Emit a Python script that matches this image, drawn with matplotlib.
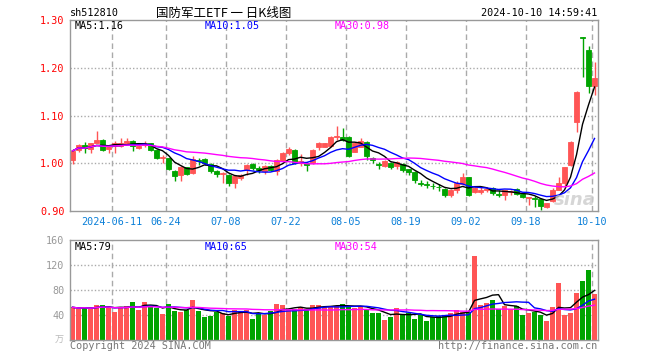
import matplotlib
matplotlib.use('Agg')
import matplotlib.pyplot as plt
import numpy as np
import pandas as pd

code = 'sh512810'
title = '国防军工ETF 一 日K线图'
stamp = '2024-10-10 14:59:41'

# daily candles 2024-05-30 .. 2024-10-10
opens = [1.007, 1.028, 1.038, 1.029, 1.043, 1.049, 1.029, 1.036, 1.036, 1.042,
         1.047, 1.031, 1.038, 1.042, 1.028, 1.010, 1.010, 0.984, 0.975, 0.992,
         0.979, 1.007, 1.008, 0.998, 0.984, 0.977, 0.975, 0.958, 0.969, 0.986,
         0.998, 0.991, 0.984, 0.994, 0.984, 1.005, 1.021, 1.028, 1.000, 1.001,
         1.000, 1.035, 1.035, 1.036, 1.056, 1.054, 1.056, 1.024, 1.035, 1.044,
         1.012, 0.998, 0.994, 1.001, 0.994, 0.998, 0.988, 0.981, 0.959, 0.957,
         0.953, 0.951, 0.946, 0.934, 0.944, 0.957, 0.971, 0.940, 0.940, 0.945,
         0.948, 0.936, 0.933, 0.939, 0.946, 0.936, 0.927, 0.928, 0.925, 0.908,
         0.920, 0.944, 0.959, 0.996, 1.087, 1.264, 1.237, 1.162]
highs = [1.028, 1.040, 1.044, 1.043, 1.068, 1.051, 1.036, 1.047, 1.052, 1.052,
         1.049, 1.038, 1.047, 1.043, 1.029, 1.017, 1.012, 0.986, 0.994, 0.993,
         1.015, 1.010, 1.010, 1.000, 0.986, 0.982, 0.977, 0.975, 0.977, 0.998,
         1.000, 0.994, 0.996, 0.996, 1.008, 1.024, 1.033, 1.029, 1.019, 1.003,
         1.029, 1.045, 1.043, 1.057, 1.077, 1.074, 1.058, 1.045, 1.052, 1.046,
         1.014, 1.002, 1.007, 1.003, 1.005, 1.000, 0.989, 0.983, 0.965, 0.963,
         0.958, 0.957, 0.948, 0.946, 0.963, 0.979, 0.972, 0.951, 0.951, 0.951,
         0.951, 0.944, 0.944, 0.944, 0.949, 0.938, 0.930, 0.931, 0.927, 0.917,
         0.948, 0.972, 0.993, 1.047, 1.151, 1.265, 1.246, 1.213]
lows = [0.998, 1.024, 1.022, 1.021, 1.042, 1.026, 1.021, 1.021, 1.035, 1.040,
        1.026, 1.029, 1.035, 1.026, 1.008, 1.001, 0.986, 0.963, 0.963, 0.975,
        0.977, 0.996, 0.996, 0.980, 0.972, 0.958, 0.953, 0.948, 0.965, 0.975,
        0.986, 0.979, 0.977, 0.984, 0.975, 1.004, 1.017, 0.998, 0.994, 0.984,
        0.998, 1.028, 1.033, 1.035, 1.049, 1.047, 1.013, 1.023, 1.033, 1.007,
        1.001, 0.988, 0.992, 0.989, 0.988, 0.982, 0.975, 0.958, 0.953, 0.949,
        0.946, 0.942, 0.930, 0.930, 0.937, 0.954, 0.931, 0.937, 0.936, 0.940,
        0.933, 0.929, 0.923, 0.933, 0.933, 0.927, 0.913, 0.909, 0.902, 0.906,
        0.918, 0.943, 0.952, 0.994, 1.066, 1.181, 1.148, 1.143]
closes = [1.026, 1.038, 1.031, 1.042, 1.049, 1.028, 1.033, 1.043, 1.043, 1.047,
          1.036, 1.036, 1.043, 1.028, 1.010, 1.014, 0.987, 0.973, 0.993, 0.978,
          1.008, 1.004, 1.000, 0.984, 0.977, 0.979, 0.959, 0.973, 0.975, 0.996,
          0.991, 0.986, 0.994, 0.986, 1.007, 1.022, 1.029, 1.000, 1.005, 0.996,
          1.028, 1.042, 1.042, 1.056, 1.058, 1.049, 1.016, 1.042, 1.047, 1.016,
          1.007, 0.997, 1.005, 0.992, 1.003, 0.986, 0.982, 0.965, 0.957, 0.955,
          0.952, 0.950, 0.934, 0.944, 0.958, 0.971, 0.934, 0.948, 0.945, 0.946,
          0.937, 0.934, 0.943, 0.941, 0.936, 0.929, 0.929, 0.926, 0.911, 0.916,
          0.943, 0.959, 0.992, 1.045, 1.150, 1.262, 1.162, 1.179]
# volume, 万手
volumes = [52.3, 50.1, 52.3, 49.1, 56.0, 56.0, 52.3, 45.3, 52.3, 54.4,
           61.3, 48.0, 61.3, 54.4, 50.7, 41.6, 57.6, 46.9, 45.3, 48.0,
           64.0, 46.9, 37.3, 38.4, 45.3, 42.7, 38.4, 48.0, 45.3, 48.0,
           33.6, 42.7, 40.0, 46.9, 57.6, 56.0, 48.0, 49.1, 52.3, 49.1,
           56.0, 56.0, 53.3, 54.4, 54.4, 57.6, 54.4, 50.7, 54.4, 48.0,
           43.7, 43.7, 32.0, 36.3, 51.8, 40.0, 42.7, 34.1, 40.0, 31.0,
           36.3, 38.4, 40.0, 43.7, 48.0, 45.3, 45.3, 134.4, 56.0, 59.2,
           64.0, 49.1, 54.4, 49.1, 54.4, 40.0, 42.7, 45.3, 40.0, 31.0,
           53.3, 91.7, 40.0, 42.7, 74.7, 93.9, 112.0, 73.3]

tick_idx = [7, 16, 26, 36, 46, 56, 66, 76, 87]
tick_labels = ['2024-06-11', '06-24', '07-08', '07-22', '08-05', '08-19', '09-02', '09-18', '10-10']
price_ticks = [0.90, 1.00, 1.10, 1.20, 1.30]
vol_ticks = [40, 80, 120, 160]
price_ma_text = ['MA5:1.16', 'MA10:1.05', 'MA30:0.98']
vol_ma_text = ['MA5:79', 'MA10:65', 'MA30:54']

RED = '#ff5555'
GREEN = '#00a400'
MA_COLORS = ['black', '#0000ff', '#ff00ff']
GRID = '#aaaaaa'
MONO = 'DejaVu Sans Mono'
CJK = ['Noto Sans CJK SC', 'DejaVu Sans']

W, H = 660, 360
fig = plt.figure(figsize=(W / 100, H / 100), dpi=100)
fig.patch.set_facecolor('white')

def fpos(px, py):
    return px / W, 1 - py / H

ax = fig.add_axes([70 / W, 1 - 211 / H, 528 / W, 191 / H])
axv = fig.add_axes([70 / W, 1 - 340 / H, 528 / W, 100 / H])

o = np.array(opens); h = np.array(highs); l = np.array(lows); c = np.array(closes)
v = np.array(volumes)
x = np.arange(len(c))
up = c >= o
colors = np.where(up, RED, GREEN)

# candles
ax.vlines(x, l, h, colors=colors, linewidth=1)
body_lo = np.minimum(o, c)
body_h = np.maximum(np.abs(c - o), 0.0008)
ax.bar(x, body_h, bottom=body_lo, width=0.8, color=colors, edgecolor=colors, linewidth=0.6)

# moving averages
for n, col in zip([5, 10, 30], MA_COLORS):
    ax.plot(x, pd.Series(c).rolling(n, min_periods=1).mean(), color=col, lw=1)
    axv.plot(x, pd.Series(v).rolling(n, min_periods=1).mean(), color=col, lw=1)

axv.bar(x, v, width=0.8, color=colors, linewidth=0)

xlim = (-2.5 / 6, 525.5 / 6 - 2.5 / 6 + 0.0)
for a in (ax, axv):
    a.set_xlim(-0.42, 87.58)
    for s in a.spines.values():
        s.set_color('#999999')
        s.set_linewidth(1)
    for t in tick_idx:
        a.axvline(t - 0.42, color=GRID, lw=1, ls=(0, (4, 2.5)), zorder=0)

ax.set_ylim(0.90, 1.30)
for p in price_ticks[1:-1]:
    ax.axhline(p, color=GRID, lw=1, ls=(0, (1, 1.5)), zorder=0)
ax.set_yticks(price_ticks)
ax.set_yticklabels(['%.2f' % p for p in price_ticks], color='#ff0000',
                   fontsize=7.3, family=MONO)
ax.set_xticks([t - 0.42 for t in tick_idx])
ax.set_xticklabels(tick_labels, color='#0a7fd8', fontsize=7.3, family=MONO)
ax.tick_params(length=0, pad=4)

axv.set_ylim(0, 160)
for vv in vol_ticks[:-1]:
    axv.axhline(vv, color=GRID, lw=1, ls=(0, (1, 1.5)), zorder=0)
axv.set_yticks(vol_ticks)
axv.set_yticklabels([str(t) for t in vol_ticks], color='#999999', fontsize=7.3, family=MONO)
axv.set_xticks([])
axv.tick_params(length=0, pad=4)

# header
fig.text(*fpos(70, 13), code, fontsize=7.3, family=MONO, va='center', ha='left')
fig.text(*fpos(224, 13), title, fontsize=9, family=CJK, va='center', ha='center')
fig.text(*fpos(597, 13), stamp, fontsize=7.3, family=MONO, va='center', ha='right')

for txt, px, col in zip(price_ma_text, [75, 205, 335], MA_COLORS):
    fig.text(*fpos(px, 26), txt, fontsize=7.3, family=MONO, color=col, va='center', ha='left')
for txt, px, col in zip(vol_ma_text, [75, 205, 335], MA_COLORS):
    fig.text(*fpos(px, 247), txt, fontsize=7.3, family=MONO, color=col, va='center', ha='left')

fig.text(*fpos(64, 340), '万', fontsize=6.5, family=CJK, color='#bbbbbb', va='center', ha='right')
fig.text(*fpos(70, 346), 'Copyright 2024 SINA.COM', fontsize=7.3, family=MONO,
         color='#777777', va='center', ha='left')
fig.text(*fpos(597, 346), 'http://finance.sina.com.cn', fontsize=7.3, family=MONO,
         color='#777777', va='center', ha='right')
fig.text(*fpos(575, 200), 'sina', fontsize=13, fontweight='bold', style='italic',
         color='#cccccc', alpha=0.8, va='center', ha='center', zorder=0)

fig.savefig('out.png', dpi=100)
